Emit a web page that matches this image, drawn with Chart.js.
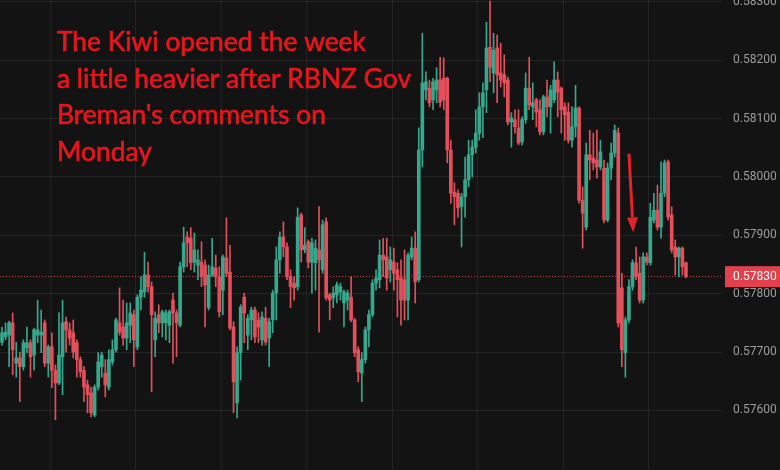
<!DOCTYPE html>
<html>
<head>
<meta charset="utf-8">
<script src="https://cdn.jsdelivr.net/npm/chart.js@4.4.1/dist/chart.umd.min.js"></script>
<style>
  html, body { margin: 0; padding: 0; background: #131313; }
  #wrap { width: 780px; height: 470px; }
</style>
</head>
<body>
<div id="wrap"><canvas id="myChart"></canvas></div>
<script>
// Setup

const opens = [
  0.57717, 0.57726, 0.57729, 0.57750, 0.57681, 0.57690, 0.57675, 0.57707, 0.57716, 0.57695,
  0.57729, 0.57729, 0.57750, 0.57681, 0.57709, 0.57669, 0.57647, 0.57692, 0.57752, 0.57738,
  0.57733, 0.57716, 0.57687, 0.57669, 0.57644, 0.57630, 0.57592, 0.57640, 0.57675, 0.57664,
  0.57640, 0.57683, 0.57704, 0.57750, 0.57743, 0.57724, 0.57746, 0.57764, 0.57709, 0.57794,
  0.57803, 0.57832, 0.57812, 0.57721, 0.57764, 0.57750, 0.57750, 0.57746, 0.57789, 0.57767,
  0.57746, 0.57846, 0.57897, 0.57895, 0.57854, 0.57849, 0.57854, 0.57849, 0.57776, 0.57832,
  0.57844, 0.57829, 0.57806, 0.57861, 0.57837, 0.57743, 0.57613, 0.57699, 0.57794, 0.57729,
  0.57755, 0.57772, 0.57755, 0.57721, 0.57758, 0.57724, 0.57755, 0.57801, 0.57858, 0.57897,
  0.57880, 0.57829, 0.57818, 0.57812, 0.57935, 0.57875, 0.57889, 0.57854, 0.57853, 0.57875,
  0.57841, 0.57923, 0.57798, 0.57793, 0.57798, 0.57803, 0.57784, 0.57789, 0.57794, 0.57755,
  0.57704, 0.57664, 0.57687, 0.57738, 0.57764, 0.57818, 0.57824, 0.57866, 0.57863, 0.57841,
  0.57854, 0.57841, 0.57827, 0.57824, 0.57789, 0.57863, 0.57878, 0.57824, 0.58046, 0.58149,
  0.58152, 0.58132, 0.58149, 0.58166, 0.58169, 0.58169, 0.58046, 0.57974, 0.57972, 0.57949,
  0.57966, 0.57995, 0.58038, 0.58051, 0.58075, 0.58120, 0.58149, 0.58222, 0.58178, 0.58221,
  0.58178, 0.58175, 0.58166, 0.58094, 0.58098, 0.58084, 0.58060, 0.58098, 0.58152, 0.58120,
  0.58132, 0.58115, 0.58077, 0.58137, 0.58120, 0.58132, 0.58166, 0.58152, 0.58120, 0.58111,
  0.58063, 0.58086, 0.58118, 0.57960, 0.57914, 0.58038, 0.58032, 0.58029, 0.58017, 0.58015,
  0.57926, 0.58015, 0.58041, 0.58075, 0.57810, 0.57699, 0.57755, 0.57812, 0.57853, 0.57835,
  0.57789, 0.57863, 0.57853, 0.57926, 0.57943, 0.57914, 0.57972, 0.58026, 0.57935, 0.57880,
  0.57863, 0.57878, 0.57853
];

const highs = [
  0.57743, 0.57750, 0.57753, 0.57767, 0.57717, 0.57700, 0.57721, 0.57743, 0.57721, 0.57741,
  0.57789, 0.57772, 0.57755, 0.57712, 0.57733, 0.57678, 0.57767, 0.57789, 0.57760, 0.57750,
  0.57755, 0.57721, 0.57692, 0.57675, 0.57652, 0.57640, 0.57644, 0.57699, 0.57700, 0.57687,
  0.57704, 0.57721, 0.57758, 0.57810, 0.57789, 0.57784, 0.57784, 0.57772, 0.57798, 0.57829,
  0.57871, 0.57854, 0.57820, 0.57769, 0.57781, 0.57772, 0.57772, 0.57772, 0.57801, 0.57772,
  0.57854, 0.57914, 0.57906, 0.57913, 0.57904, 0.57875, 0.57889, 0.57858, 0.57849, 0.57895,
  0.57866, 0.57846, 0.57866, 0.57930, 0.57883, 0.57752, 0.57709, 0.57781, 0.57801, 0.57764,
  0.57777, 0.57777, 0.57767, 0.57769, 0.57777, 0.57758, 0.57806, 0.57880, 0.57906, 0.57923,
  0.57887, 0.57841, 0.57829, 0.57947, 0.57938, 0.57913, 0.57892, 0.57895, 0.57892, 0.57949,
  0.57926, 0.57930, 0.57801, 0.57812, 0.57820, 0.57818, 0.57806, 0.57806, 0.57829, 0.57758,
  0.57709, 0.57699, 0.57743, 0.57772, 0.57824, 0.57841, 0.57892, 0.57895, 0.57895, 0.57880,
  0.57878, 0.57853, 0.57858, 0.57875, 0.57870, 0.57897, 0.57906, 0.58084, 0.58246, 0.58180,
  0.58166, 0.58169, 0.58187, 0.58205, 0.58204, 0.58171, 0.58063, 0.57990, 0.57978, 0.57972,
  0.58034, 0.58063, 0.58063, 0.58115, 0.58144, 0.58161, 0.58265, 0.58301, 0.58246, 0.58243,
  0.58229, 0.58209, 0.58171, 0.58110, 0.58115, 0.58115, 0.58103, 0.58178, 0.58205, 0.58161,
  0.58135, 0.58132, 0.58140, 0.58166, 0.58157, 0.58197, 0.58180, 0.58154, 0.58127, 0.58127,
  0.58120, 0.58157, 0.58120, 0.57983, 0.58058, 0.58080, 0.58075, 0.58080, 0.58063, 0.58029,
  0.58024, 0.58058, 0.58089, 0.58084, 0.57835, 0.57760, 0.57824, 0.57858, 0.57880, 0.57863,
  0.57870, 0.57870, 0.57955, 0.57972, 0.57986, 0.58026, 0.58029, 0.58029, 0.57949, 0.57892,
  0.57880, 0.57880, 0.57854
];

const lows = [
  0.57712, 0.57721, 0.57675, 0.57661, 0.57657, 0.57615, 0.57669, 0.57699, 0.57657, 0.57669,
  0.57716, 0.57699, 0.57675, 0.57657, 0.57639, 0.57584, 0.57644, 0.57627, 0.57700, 0.57712,
  0.57690, 0.57657, 0.57657, 0.57615, 0.57596, 0.57589, 0.57589, 0.57635, 0.57657, 0.57623,
  0.57635, 0.57678, 0.57700, 0.57729, 0.57712, 0.57704, 0.57716, 0.57675, 0.57704, 0.57772,
  0.57794, 0.57803, 0.57632, 0.57692, 0.57733, 0.57726, 0.57721, 0.57716, 0.57681, 0.57692,
  0.57743, 0.57837, 0.57846, 0.57841, 0.57837, 0.57824, 0.57812, 0.57743, 0.57772, 0.57829,
  0.57812, 0.57760, 0.57764, 0.57829, 0.57738, 0.57596, 0.57587, 0.57652, 0.57716, 0.57704,
  0.57721, 0.57716, 0.57716, 0.57712, 0.57712, 0.57675, 0.57733, 0.57755, 0.57835, 0.57863,
  0.57824, 0.57776, 0.57789, 0.57806, 0.57854, 0.57870, 0.57844, 0.57801, 0.57806, 0.57734,
  0.57835, 0.57789, 0.57755, 0.57776, 0.57784, 0.57789, 0.57743, 0.57772, 0.57752, 0.57692,
  0.57649, 0.57615, 0.57681, 0.57709, 0.57760, 0.57806, 0.57810, 0.57829, 0.57806, 0.57820,
  0.57806, 0.57760, 0.57746, 0.57755, 0.57755, 0.57858, 0.57784, 0.57820, 0.58017, 0.58132,
  0.58120, 0.58115, 0.58127, 0.58120, 0.58115, 0.58024, 0.57955, 0.57918, 0.57931, 0.57880,
  0.57931, 0.57983, 0.58000, 0.58041, 0.58063, 0.58067, 0.58110, 0.58163, 0.58144, 0.58127,
  0.58154, 0.58137, 0.58089, 0.58051, 0.58075, 0.58055, 0.58055, 0.58092, 0.58115, 0.58098,
  0.58086, 0.58072, 0.58072, 0.58103, 0.58075, 0.58127, 0.58103, 0.58075, 0.58063, 0.58058,
  0.58051, 0.58068, 0.57955, 0.57878, 0.57909, 0.57995, 0.58012, 0.57998, 0.58012, 0.57921,
  0.57923, 0.57995, 0.58034, 0.57743, 0.57675, 0.57657, 0.57750, 0.57806, 0.57824, 0.57784,
  0.57784, 0.57849, 0.57849, 0.57921, 0.57909, 0.57895, 0.57966, 0.57926, 0.57870, 0.57832,
  0.57829, 0.57832, 0.57827
];

const closes = [
  0.57733, 0.57734, 0.57750, 0.57704, 0.57690, 0.57675, 0.57716, 0.57716, 0.57692, 0.57738,
  0.57738, 0.57734, 0.57681, 0.57709, 0.57669, 0.57647, 0.57695, 0.57750, 0.57738, 0.57724,
  0.57700, 0.57687, 0.57666, 0.57640, 0.57627, 0.57596, 0.57640, 0.57683, 0.57695, 0.57644,
  0.57687, 0.57704, 0.57755, 0.57734, 0.57724, 0.57750, 0.57767, 0.57721, 0.57794, 0.57806,
  0.57832, 0.57812, 0.57764, 0.57758, 0.57750, 0.57769, 0.57767, 0.57769, 0.57767, 0.57750,
  0.57846, 0.57887, 0.57887, 0.57853, 0.57875, 0.57858, 0.57829, 0.57815, 0.57832, 0.57846,
  0.57829, 0.57769, 0.57863, 0.57835, 0.57741, 0.57649, 0.57699, 0.57777, 0.57767, 0.57758,
  0.57772, 0.57726, 0.57743, 0.57760, 0.57717, 0.57752, 0.57801, 0.57858, 0.57897, 0.57880,
  0.57829, 0.57812, 0.57810, 0.57931, 0.57875, 0.57883, 0.57854, 0.57887, 0.57878, 0.57858,
  0.57918, 0.57793, 0.57789, 0.57801, 0.57815, 0.57812, 0.57803, 0.57801, 0.57755, 0.57699,
  0.57666, 0.57687, 0.57738, 0.57764, 0.57818, 0.57827, 0.57866, 0.57858, 0.57827, 0.57858,
  0.57835, 0.57824, 0.57789, 0.57789, 0.57866, 0.57878, 0.57820, 0.58046, 0.58161, 0.58163,
  0.58127, 0.58163, 0.58166, 0.58128, 0.58132, 0.58046, 0.57972, 0.57966, 0.57947, 0.57966,
  0.57995, 0.58038, 0.58051, 0.58075, 0.58120, 0.58144, 0.58221, 0.58188, 0.58217, 0.58175,
  0.58166, 0.58161, 0.58094, 0.58101, 0.58086, 0.58058, 0.58098, 0.58152, 0.58123, 0.58127,
  0.58111, 0.58077, 0.58137, 0.58120, 0.58149, 0.58166, 0.58145, 0.58115, 0.58106, 0.58063,
  0.58086, 0.58118, 0.57960, 0.57938, 0.58038, 0.58029, 0.58024, 0.58017, 0.58043, 0.57926,
  0.58015, 0.58041, 0.58080, 0.57750, 0.57704, 0.57755, 0.57812, 0.57853, 0.57829, 0.57789,
  0.57863, 0.57854, 0.57931, 0.57943, 0.57914, 0.57972, 0.58024, 0.57931, 0.57875, 0.57863,
  0.57878, 0.57846, 0.57830
];

const priceTicks = [0.583, 0.582, 0.581, 0.580, 0.579, 0.578, 0.577, 0.576];
const timeGrid = [25.5, 49.5, 73.5, 97.5, 121.5, 145.5, 169.5, 193.5];
const lastPrice = 0.57830;

const noteLines = [
  "The Kiwi opened the week",
  "a little heavier after RBNZ Gov",
  "Breman's comments on",
  "Monday"
];
// arrow from candle/price to candle/price
const arrowFrom = { x: 176, y: 0.58040 };
const arrowTo = { x: 177.2, y: 0.57905 };

const upColor = "#36a88d";
const downColor = "#e2505c";
const candleColors = closes.map((c, i) => (c >= opens[i] ? upColor : downColor));

const wickData = lows.map((l, i) => ({ x: i, y: [l, highs[i]] }));
const bodyData = opens.map((o, i) => ({ x: i, y: [o, closes[i]] }));

// Overlay: last price line + tag, note text, arrow

const overlay = {
  id: "overlay",
  beforeDatasetsDraw(chart) {
    const { ctx, chartArea, scales } = chart;
    const y = Math.round(scales.y.getPixelForValue(lastPrice)) + 0.5;
    ctx.save();
    ctx.strokeStyle = "#c4473f";
    ctx.lineWidth = 1;
    ctx.setLineDash([1, 2]);
    ctx.beginPath();
    ctx.moveTo(chartArea.left, y);
    ctx.lineTo(chartArea.right, y);
    ctx.stroke();
    ctx.restore();
  },
  afterDraw(chart) {
    const { ctx, chartArea, scales } = chart;
    const y = scales.y.getPixelForValue(lastPrice);

    // price tag
    ctx.save();
    ctx.fillStyle = "#e2404c";
    ctx.fillRect(chartArea.right + 2, y - 10, 60, 21);
    ctx.fillStyle = "#ffffff";
    ctx.font = "12px Roboto";
    ctx.textBaseline = "middle";
    ctx.fillText(lastPrice.toFixed(5), chartArea.right + 10, y + 1);
    ctx.restore();

    // note text
    ctx.save();
    ctx.fillStyle = "#e5161d";
    ctx.strokeStyle = "#e5161d";
    ctx.lineWidth = 0.7;
    ctx.font = "26px Lato";
    ctx.textBaseline = "alphabetic";
    const sx = 354 / ctx.measureText(noteLines[1]).width;
    noteLines.forEach((line, k) => {
      ctx.save();
      ctx.translate(57, 51 + k * 36.5);
      ctx.scale(sx, 1);
      ctx.fillText(line, 0, 0);
      ctx.strokeText(line, 0, 0);
      ctx.restore();
    });
    ctx.restore();

    // arrow
    const x1 = scales.x.getPixelForValue(arrowFrom.x);
    const y1 = scales.y.getPixelForValue(arrowFrom.y);
    const x2 = scales.x.getPixelForValue(arrowTo.x);
    const y2 = scales.y.getPixelForValue(arrowTo.y);
    const ang = Math.atan2(y2 - y1, x2 - x1);
    const headLen = 15;
    const headW = 5.5;
    const bx = x2 - headLen * Math.cos(ang);
    const by = y2 - headLen * Math.sin(ang);
    ctx.save();
    ctx.strokeStyle = "#e3232b";
    ctx.fillStyle = "#e3232b";
    ctx.lineWidth = 3;
    ctx.beginPath();
    ctx.moveTo(x1, y1);
    ctx.lineTo(bx, by);
    ctx.stroke();
    ctx.beginPath();
    ctx.moveTo(x2, y2);
    ctx.lineTo(bx + headW * Math.sin(ang), by - headW * Math.cos(ang));
    ctx.lineTo(bx - headW * Math.sin(ang), by + headW * Math.cos(ang));
    ctx.closePath();
    ctx.fill();
    ctx.restore();
  }
};

// Config

const config = {
  type: "bar",
  data: {
    datasets: [
      {
        label: "wick",
        data: wickData,
        backgroundColor: candleColors,
        barThickness: 1,
        grouped: false,
        borderWidth: 0,
        minBarLength: 1
      },
      {
        label: "body",
        data: bodyData,
        backgroundColor: candleColors,
        barThickness: 3,
        grouped: false,
        borderWidth: 0,
        minBarLength: 1
      }
    ]
  },
  options: {
    responsive: true,
    maintainAspectRatio: false,
    animation: false,
    layout: { padding: 0 },
    plugins: {
      legend: { display: false },
      tooltip: { enabled: false }
    },
    scales: {
      x: {
        type: "linear",
        min: -0.56,
        max: 202.4,
        offset: false,
        border: { display: false },
        grid: { color: "rgba(255,255,255,0.07)", drawTicks: false },
        ticks: { display: false },
        afterBuildTicks: (scale) => {
          scale.ticks = timeGrid.map((v) => ({ value: v }));
        },
        afterFit: (scale) => {
          scale.height = 0;
        }
      },
      y: {
        position: "right",
        min: 0.57498,
        max: 0.58303,
        border: { display: false },
        grid: { color: "rgba(255,255,255,0.07)", drawTicks: false },
        ticks: {
          color: "#9c9c9c",
          font: { family: "Roboto", size: 12 },
          padding: 10,
          callback: (v) => Number(v).toFixed(5)
        },
        afterBuildTicks: (scale) => {
          scale.ticks = priceTicks.map((v) => ({ value: v }));
        },
        afterFit: (scale) => {
          scale.width = 57;
          scale.paddingTop = 0;
          scale.paddingBottom = 0;
        }
      }
    }
  },
  plugins: [overlay]
};

// Render init block

const myChart = new Chart(document.getElementById("myChart"), config);
</script>
</body>
</html>
